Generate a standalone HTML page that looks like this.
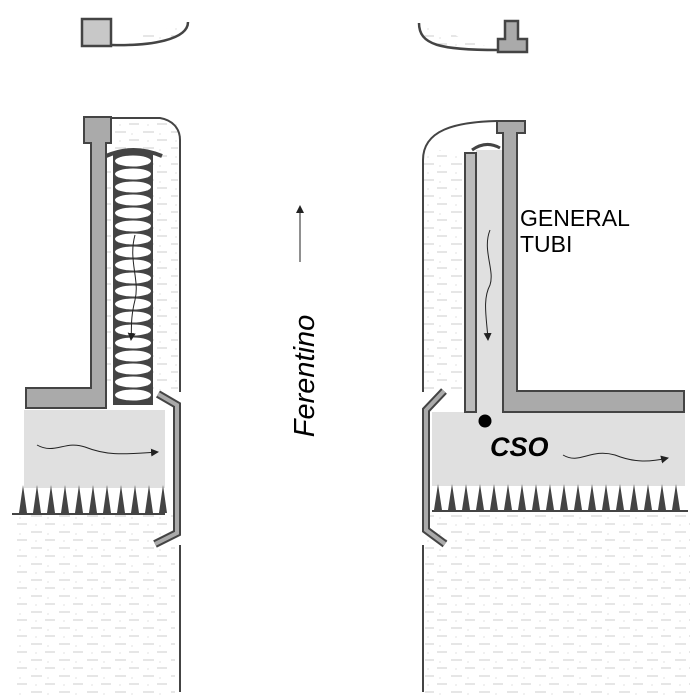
<!DOCTYPE html>
<html><head><style>body{margin:0;background:#fff}svg{display:block}</style></head><body>
<svg width="700" height="700" viewBox="0 0 700 700" xmlns="http://www.w3.org/2000/svg">
<defs>
<pattern id="h" width="28" height="16" patternUnits="userSpaceOnUse">
<line x1="3" y1="4" x2="14" y2="4" stroke="#ccc" stroke-width="1"/>
<line x1="17" y1="12" x2="27" y2="12" stroke="#ccc" stroke-width="1"/>
<circle cx="20" cy="6" r="0.6" fill="#ccc"/><circle cx="8" cy="13" r="0.6" fill="#ccc"/>
</pattern>
<marker id="a" markerWidth="8" markerHeight="8" refX="7" refY="4" orient="auto" markerUnits="userSpaceOnUse"><path d="M0,0 L8,4 L0,8 z" fill="#222"/></marker>
</defs>
<g stroke="#444" stroke-width="2.5" fill="none">
<path d="M112,45 C150,46 188,40 188,22" fill="url(#h)" stroke="#444"/>
<rect x="82" y="19" width="29" height="27" fill="#c8c8c8"/>
<path d="M419,23 C419,45 440,50 498,50" fill="url(#h)"/>
<path d="M498,52 L498,39 L505,39 L505,21 L518,21 L518,39 L527,39 L527,52 Z" fill="#aaa"/>
</g>
<rect x="106" y="120" width="72" height="270" fill="url(#h)"/>
<rect x="15" y="515" width="160" height="180" fill="url(#h)"/>
<rect x="424" y="150" width="40" height="240" fill="url(#h)"/>
<rect x="425" y="515" width="265" height="180" fill="url(#h)"/>
<g stroke="#444" stroke-width="2" fill="none">
<path d="M112,118 L160,118 C172,120 180,128 180,140 L180,392"/>
<path d="M180,545 L180,692"/>
<path d="M497,121 C455,122 423,130 423,160 L423,392"/>
<path d="M423,545 L423,692"/>
</g>
<rect x="24" y="410" width="141" height="78" fill="#e0e0e0"/>
<g fill="#444">
<path d="M12,513 L165,513 L165,515 L12,515 Z"/>
<path id="sp" d="M19,513 L23,485 L27,513 Z"/>
<use href="#sp" x="14"/><use href="#sp" x="28"/><use href="#sp" x="42"/><use href="#sp" x="56"/><use href="#sp" x="70"/><use href="#sp" x="84"/><use href="#sp" x="98"/><use href="#sp" x="112"/><use href="#sp" x="126"/><use href="#sp" x="140"/>
</g>
<rect x="432" y="412" width="253" height="74" fill="#e0e0e0"/>
<rect x="476" y="150" width="28" height="262" fill="#e0e0e0"/>
<g fill="#444">
<path d="M432,510 L688,510 L688,512 L432,512 Z"/>
<path id="sq" d="M434,510 L438,484 L442,510 Z"/>
<use href="#sq" x="14"/><use href="#sq" x="28"/><use href="#sq" x="42"/><use href="#sq" x="56"/><use href="#sq" x="70"/><use href="#sq" x="84"/><use href="#sq" x="98"/><use href="#sq" x="112"/><use href="#sq" x="126"/><use href="#sq" x="140"/><use href="#sq" x="154"/><use href="#sq" x="168"/><use href="#sq" x="182"/><use href="#sq" x="196"/><use href="#sq" x="210"/><use href="#sq" x="224"/><use href="#sq" x="238"/>
</g>
<rect x="113" y="152" width="40" height="253" fill="#444"/>
<g fill="#fff">
<ellipse cx="133" cy="161" rx="18" ry="5.5"/><ellipse cx="133" cy="174" rx="18" ry="5.5"/><ellipse cx="133" cy="187" rx="18" ry="5.5"/><ellipse cx="133" cy="200" rx="18" ry="5.5"/><ellipse cx="133" cy="213" rx="18" ry="5.5"/><ellipse cx="133" cy="226" rx="18" ry="5.5"/><ellipse cx="133" cy="239" rx="18" ry="5.5"/><ellipse cx="133" cy="252" rx="18" ry="5.5"/><ellipse cx="133" cy="265" rx="18" ry="5.5"/><ellipse cx="133" cy="278" rx="18" ry="5.5"/><ellipse cx="133" cy="291" rx="18" ry="5.5"/><ellipse cx="133" cy="304" rx="18" ry="5.5"/><ellipse cx="133" cy="317" rx="18" ry="5.5"/><ellipse cx="133" cy="330" rx="18" ry="5.5"/><ellipse cx="133" cy="343" rx="18" ry="5.5"/><ellipse cx="133" cy="356" rx="18" ry="5.5"/><ellipse cx="133" cy="369" rx="18" ry="5.5"/><ellipse cx="133" cy="382" rx="18" ry="5.5"/><ellipse cx="133" cy="395" rx="18" ry="5.5"/>
</g>
<path d="M106,156 Q133,144 162,156" stroke="#444" stroke-width="4" fill="none"/>
<path d="M84,117 L111,117 L111,143 L106,143 L106,408 L26,408 L26,388 L91,388 L91,143 L84,143 Z" fill="#aaa" stroke="#444" stroke-width="2"/>
<path d="M497,121 L525,121 L525,133 L517,133 L517,391 L684,391 L684,412 L503,412 L503,133 L497,133 Z" fill="#aaa" stroke="#444" stroke-width="2"/>
<rect x="465" y="153" width="11" height="259" fill="#bbb" stroke="#444" stroke-width="2"/>
<path d="M472,150 Q486,140 500,148" stroke="#444" stroke-width="3" fill="none"/>
<g fill="none" stroke-linejoin="miter">
<polyline points="158,394 177,405 177,533 155,544" stroke="#444" stroke-width="8"/>
<polyline points="158,394 177,405 177,533 155,544" stroke="#aaa" stroke-width="4"/>
<polyline points="444,391 426,410 426,530 445,544" stroke="#444" stroke-width="8"/>
<polyline points="444,391 426,410 426,530 445,544" stroke="#aaa" stroke-width="4"/>
</g>
<g stroke="#222" stroke-width="1" fill="none" marker-end="url(#a)">
<path d="M37,445 C55,455 65,440 85,447 C105,455 120,455 158,452"/>
<path d="M135,235 C128,260 140,280 135,300 C130,320 132,330 131,340"/>
<path d="M490,230 C482,250 495,270 490,285 C482,300 487,320 488,340"/>
<path d="M563,455 C580,465 590,448 615,455 C635,463 650,462 668,458"/>
<path d="M300,262 L300,206"/>
</g>
<circle cx="485" cy="421" r="6.5" fill="#000"/>
<g font-family="Liberation Sans, sans-serif">
<text x="490" y="456" font-size="27" font-weight="bold" font-style="italic">CSO</text>
<text x="520" y="226" font-size="23">GENERAL</text>
<text x="520" y="252" font-size="23">TUBI</text>
<text transform="translate(314,376) rotate(-90)" font-size="29" font-style="italic" text-anchor="middle">Ferentino</text>
</g>
</svg>
</body></html>
